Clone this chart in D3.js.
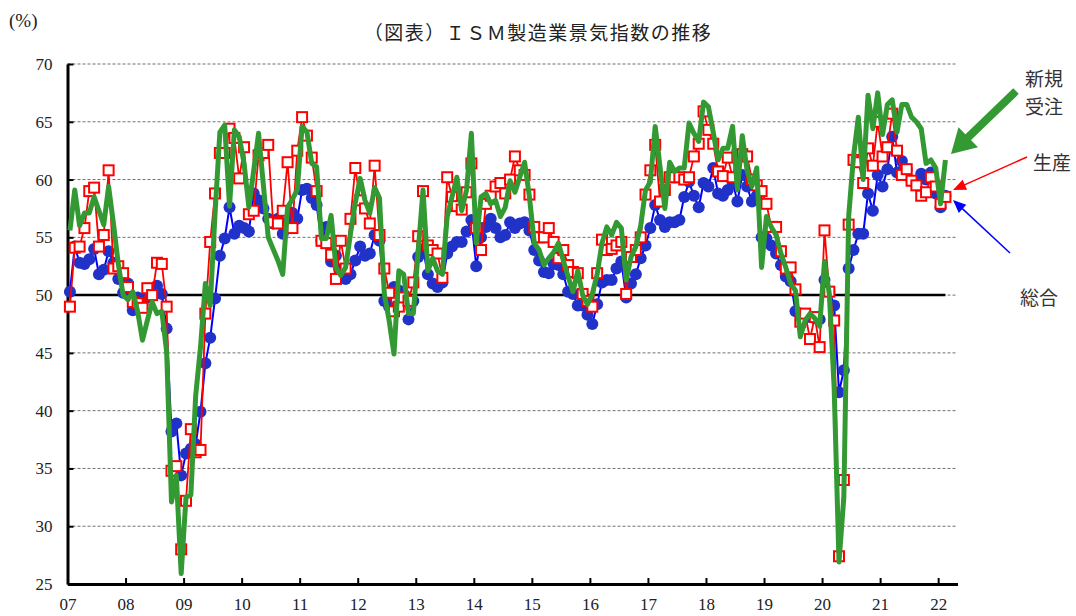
<!DOCTYPE html>
<html>
<head>
<meta charset="utf-8">
<script src="https://cdn.jsdelivr.net/npm/d3@7"></script>
<style>
body { margin: 0; background: #fff; }
svg text { font-family: "Liberation Serif", "DejaVu Serif", "Noto Sans CJK JP", serif; }
</style>
</head>
<body>
<svg id="chart" width="1076" height="616"></svg>
<script>
// year labels on the x axis
const yearLabels = ['07','08','09','10','11','12','13','14','15','16','17','18','19','20','21','22']

// ISM composite (総合), monthly Jan 2007 - Feb 2022
const composite = [
  50.3,54.2,52.8,52.7,53.1,54.0,51.8,52.2,53.8,52.8,51.4,50.2, // 2007
  51.0,48.7,49.8,49.2,49.8,50.5,50.8,50.1,47.1,38.2,38.9,34.4, // 2008
  36.3,36.7,37.1,39.9,44.1,46.3,49.7,53.4,54.9,57.6,55.3,56.0, // 2009
  55.8,55.5,58.8,58.2,57.5,56.6,56.2,56.6,55.3,56.3,57.1,56.6, // 2010
  59.1,59.2,58.4,57.8,54.7,55.9,52.9,53.4,52.1,51.4,51.8,53.0, // 2011
  54.2,53.4,53.6,55.2,54.7,49.5,49.0,50.7,50.4,50.1,47.9,49.5, // 2012
  53.3,54.0,51.8,51.0,50.7,51.1,53.6,54.2,54.6,54.6,55.5,56.5, // 2013
  52.5,55.0,55.9,56.6,55.8,55.0,55.2,56.3,55.8,56.2,56.3,55.6, // 2014
  53.9,53.0,52.0,51.9,52.7,52.6,51.8,50.3,50.1,49.1,49.1,48.3, // 2015
  47.5,49.2,51.1,51.3,51.3,52.3,52.9,49.8,51.0,51.8,53.2,54.3, // 2016
  55.8,57.8,56.5,55.9,56.3,56.3,56.5,58.5,59.8,58.6,57.6,59.7, // 2017
  59.4,61.0,58.8,58.6,59.1,59.8,58.1,60.4,59.4,58.1,58.6,55.0, // 2018
  54.9,54.3,53.6,52.6,51.6,51.2,48.6,48.4,48.3,48.1,48.0,47.9, // 2019
  51.3,50.3,49.1,41.6,43.5,52.3,53.9,55.3,55.3,58.8,57.3,60.4, // 2020
  59.4,60.9,63.7,60.6,61.6,60.9,59.9,59.7,60.5,60.0,60.6,58.8, // 2021
  57.6,58.6                                                    // 2022
]

// production (生産)
const production = [
  49.0,54.1,54.2,55.8,59.0,59.3,54.2,55.2,60.8,52.3,52.5,51.9,
  50.7,49.4,49.3,48.9,50.6,50.0,52.8,52.7,49.0,34.8,35.2,28.0,
  32.2,38.4,36.4,36.6,48.4,54.6,58.8,62.3,62.3,64.4,63.6,60.1,
  62.8,57.0,57.3,62.1,62.3,63.0,56.3,56.2,57.3,61.5,55.8,62.5,
  65.4,63.8,61.9,59.0,54.7,54.5,53.5,51.4,54.7,52.3,56.6,61.0,
  58.2,57.5,56.2,61.2,55.2,52.3,50.2,48.6,49.0,49.8,49.5,51.1,
  55.1,59.0,54.3,53.9,53.6,51.5,60.2,58.5,57.7,57.4,58.9,61.4,
  55.8,53.9,57.9,58.6,59.4,59.7,58.8,60.0,62.0,60.8,60.4,58.7,
  55.9,55.0,55.0,55.8,54.6,53.2,53.9,52.6,52.0,51.9,50.1,49.5,
  49.0,51.9,54.8,53.9,54.0,54.3,54.6,50.1,53.3,53.9,55.0,58.7,
  60.8,63.0,58.1,59.1,60.2,60.2,60.2,60.0,60.2,62.0,63.1,65.9,
  64.3,63.1,60.7,60.3,61.9,60.2,62.1,62.2,62.0,60.0,59.5,59.0,
  57.9,55.9,55.9,53.8,52.3,52.4,50.5,47.7,48.4,46.2,48.1,45.5,
  55.6,50.3,47.8,27.4,34.0,56.1,61.7,61.5,59.7,62.7,61.2,65.0,
  62.0,62.8,65.7,62.5,60.4,60.9,59.9,59.5,58.6,58.9,60.2,59.4,
  57.9,58.5
]

// new orders (新規受注)
const newOrders = [
  55.6,59.1,56.0,57.1,57.1,58.5,57.3,56.1,59.4,56.2,52.7,50.0,
  49.6,50.3,48.6,46.1,47.8,49.4,48.4,48.6,45.1,32.1,34.4,25.9,
  32.5,32.7,41.3,45.5,51.0,49.1,57.0,64.1,64.7,57.7,64.3,63.7,
  61.4,57.6,60.8,64.0,59.5,55.0,54.0,53.0,51.8,57.6,58.3,59.1,
  64.6,64.1,61.4,61.1,54.9,54.9,56.9,52.4,51.7,52.4,55.3,58.0,
  60.1,58.2,57.1,59.3,58.4,50.1,47.8,44.9,52.1,51.8,48.4,48.4,
  53.8,59.1,52.1,53.2,52.1,51.8,56.8,58.5,60.2,57.3,59.1,64.0,
  54.5,58.5,58.8,57.9,58.2,56.8,57.6,59.9,58.9,60.2,61.5,58.5,
  54.5,53.9,52.6,53.2,53.7,54.5,53.0,51.6,50.3,52.1,50.0,49.2,
  50.1,51.8,54.5,55.9,55.2,56.3,55.8,51.3,53.3,54.2,56.0,59.1,
  59.8,64.6,61.1,57.5,61.5,60.7,61.0,61.0,64.9,64.0,63.3,66.7,
  66.3,64.1,61.7,62.7,62.7,64.6,59.1,63.8,60.8,59.4,61.0,52.4,
  56.8,55.9,55.2,53.6,52.4,51.0,50.4,46.4,47.8,48.4,48.0,47.3,
  52.9,50.1,42.0,26.9,32.5,56.8,62.0,65.4,60.0,67.3,64.4,67.5,
  63.9,66.5,66.9,64.1,66.5,66.5,65.4,65.0,64.4,61.4,61.7,61.0,
  57.9,61.7
]

const yTicks = [25, 30, 35, 40, 45, 50, 55, 60, 65, 70]
const nSlots = 184

let svg = d3.select('#chart')

let x = d3.scaleLinear()
    .domain([0, nSlots])
    .range([67.5, 957.5])
let y = d3.scaleLinear()
    .domain([25, 70])
    .range([584, 64])

// dotted grid
svg.append('g')
    .selectAll('line')
    .data(yTicks.slice(1))
    .join('line')
    .attr('x1', x(0))
    .attr('x2', x(nSlots))
    .attr('y1', d => y(d))
    .attr('y2', d => y(d))
    .attr('stroke', '#707070')
    .attr('stroke-width', 1)
    .attr('stroke-dasharray', '3,2')

// 50 line
svg.append('line')
    .attr('x1', x(0))
    .attr('x2', x(181.5))
    .attr('y1', y(50))
    .attr('y2', y(50))
    .attr('stroke', '#000')
    .attr('stroke-width', 2.5)

let yAxis = d3.axisLeft(y)
    .tickValues(yTicks)
    .tickFormat(d3.format('d'))
    .tickSizeInner(-6)
    .tickSizeOuter(0)
    .tickPadding(15)

let xAxis = d3.axisBottom(x)
    .tickValues(d3.range(0, 181, 12))
    .tickFormat((d, i) => yearLabels[i])
    .tickSizeInner(-6)
    .tickSizeOuter(0)
    .tickPadding(14)

let gy = svg.append('g')
    .attr('transform', `translate(${x(0)},0)`)
    .call(yAxis)
let gx = svg.append('g')
    .attr('transform', `translate(0,${y(25)})`)
    .call(xAxis)

;[gx, gy].forEach(g => {
    g.select('.domain').attr('stroke', '#000').attr('stroke-width', 3)
    g.selectAll('.tick line').attr('stroke', '#000').attr('stroke-width', 2)
    g.selectAll('text')
        .attr('fill', '#222')
        .style('font-size', '17px')
        .style('font-family', '"Liberation Serif", serif')
})

let line = d3.line()
    .x((d, i) => x(i + 0.5))
    .y(d => y(d))

// composite: blue line + dots
svg.append('path')
    .datum(composite)
    .attr('d', line)
    .attr('fill', 'none')
    .attr('stroke', '#0000ff')
    .attr('stroke-width', 2)
svg.append('g')
    .selectAll('circle')
    .data(composite)
    .join('circle')
    .attr('cx', (d, i) => x(i + 0.5))
    .attr('cy', d => y(d))
    .attr('r', 6)
    .attr('fill', '#2132c8')

// production: red line + hollow squares
svg.append('path')
    .datum(production)
    .attr('d', line)
    .attr('fill', 'none')
    .attr('stroke', '#ff0000')
    .attr('stroke-width', 1.8)
svg.append('g')
    .selectAll('rect')
    .data(production)
    .join('rect')
    .attr('x', (d, i) => x(i + 0.5) - 5)
    .attr('y', d => y(d) - 5)
    .attr('width', 10)
    .attr('height', 10)
    .attr('fill', '#fff')
    .attr('stroke', '#ff0000')
    .attr('stroke-width', 2)

// new orders: thick green line
svg.append('path')
    .datum(newOrders)
    .attr('d', line)
    .attr('fill', 'none')
    .attr('stroke', '#339933')
    .attr('stroke-width', 5)
    .attr('stroke-linejoin', 'round')

// title and unit
svg.append('text')
    .attr('x', 538)
    .attr('y', 40)
    .attr('text-anchor', 'middle')
    .attr('fill', '#222')
    .style('font-size', '19px')
    .style('letter-spacing', '1.5px')
    .text('（図表）ＩＳＭ製造業景気指数の推移')
svg.append('text')
    .attr('x', 9)
    .attr('y', 27)
    .attr('fill', '#222')
    .style('font-size', '19px')
    .text('(%)')

// annotation arrows
function arrow(x1, y1, x2, y2, color, w, headLen, headHalf) {
    let dx = x2 - x1, dy = y2 - y1
    let len = Math.sqrt(dx * dx + dy * dy)
    let ux = dx / len, uy = dy / len
    let bx = x2 - ux * headLen, by = y2 - uy * headLen
    svg.append('line')
        .attr('x1', x1).attr('y1', y1)
        .attr('x2', bx + ux).attr('y2', by + uy)
        .attr('stroke', color)
        .attr('stroke-width', w)
    svg.append('path')
        .attr('d', `M${x2},${y2}L${bx - uy * headHalf},${by + ux * headHalf}L${bx + uy * headHalf},${by - ux * headHalf}Z`)
        .attr('fill', color)
}
arrow(1016, 91, 951, 154, '#339933', 8, 24, 14)
arrow(1027, 157, 953, 190, '#ff0000', 1.5, 13, 5.5)
arrow(1010, 253, 953, 200, '#0000ff', 1.5, 13, 5.5)

let labels = [
    { t: '新規', x: 1025, y: 86 },
    { t: '受注', x: 1025, y: 114 },
    { t: '生産', x: 1033, y: 170 },
    { t: '総合', x: 1020, y: 305 }
]
svg.append('g')
    .selectAll('text')
    .data(labels)
    .join('text')
    .attr('x', d => d.x)
    .attr('y', d => d.y)
    .attr('fill', '#333')
    .style('font-size', '19px')
    .style('font-family', '"Noto Sans CJK JP", sans-serif')
    .text(d => d.t)
</script>
</body>
</html>
